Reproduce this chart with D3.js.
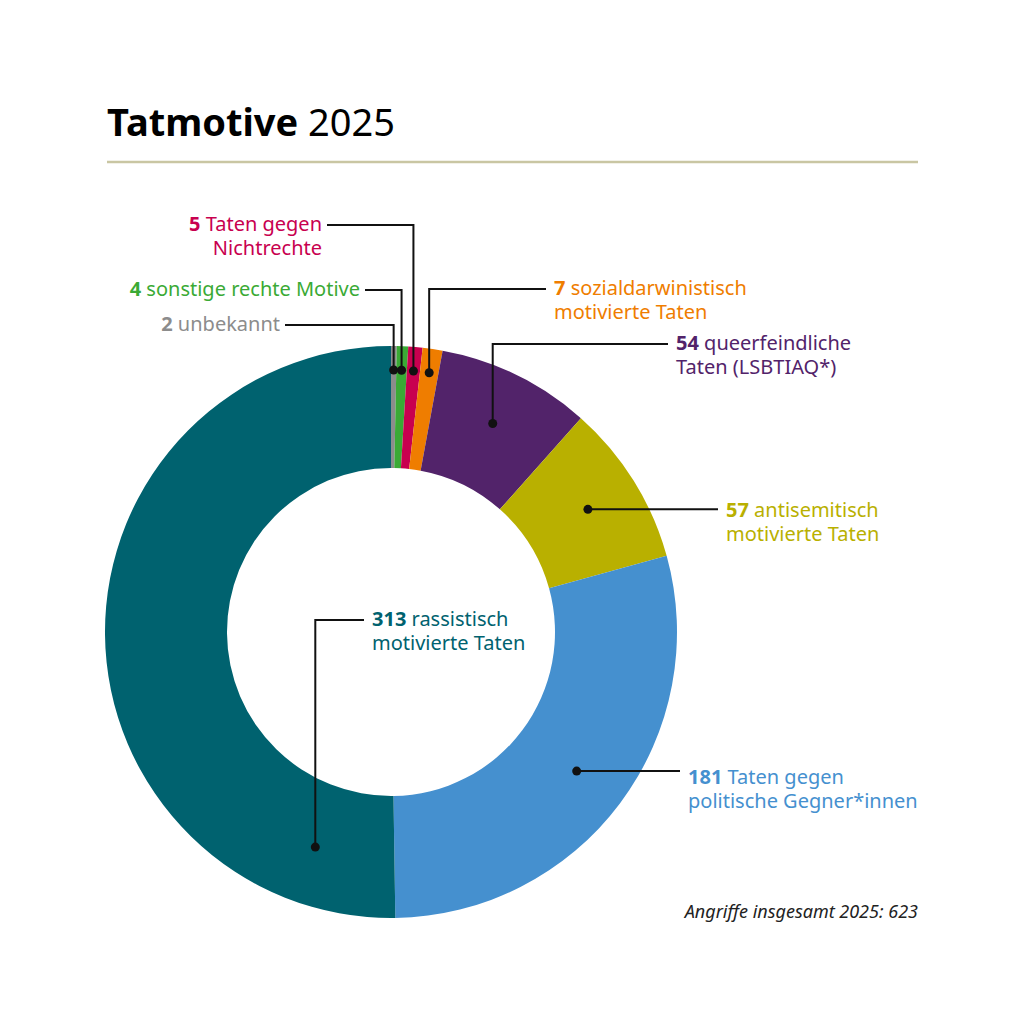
<!DOCTYPE html>
<html><head><meta charset="utf-8">
<script src="https://cdn.jsdelivr.net/npm/d3@7"></script>
<style>body{margin:0;background:#fff}text{font-family:"Noto Sans",sans-serif}</style>
</head><body><svg id="svg1" width="1024" height="1024"></svg>
<script>
"use strict"
// data, clockwise from the top
const categories = ["unbekannt","sonstige","nichtrechte","sozial","queer","antisemit","politisch","rassistisch"];
const values = [2, 4, 5, 7, 54, 57, 181, 313];
const colors = ["#8c8c8c","#3aaa35","#c8004f","#ef7d00","#52236a","#b9b000","#4590cf","#00626f"];
const labelLines = [
  ["2", " unbekannt"],
  ["4", " sonstige rechte Motive"],
  ["5", " Taten gegen", "Nichtrechte"],
  ["7", " sozialdarwinistisch", "motivierte Taten"],
  ["54", " queerfeindliche", "Taten (LSBTIAQ*)"],
  ["57", " antisemitisch", "motivierte Taten"],
  ["181", " Taten gegen", "politische Gegner*innen"],
  ["313", " rassistisch", "motivierte Taten"]
];

const svg = d3.select("#svg1");
const cx = 391, cy = 632, rOut = 286, rIn = 164;

// title
const t = svg.append("text").attr("x", 107).attr("y", 136).style("font-size", "38px");
t.append("tspan").style("font-weight", "bold").text("Tatmotive");
t.append("tspan").text(" 2025");
svg.append("line").attr("x1", 107).attr("x2", 918).attr("y1", 162).attr("y2", 162)
  .attr("stroke", "#c9c6a3").attr("stroke-width", 2.5);

const pie = d3.pie().sort(null).value(d => d)(values);
const arc = d3.arc().innerRadius(rIn).outerRadius(rOut);
const g = svg.append("g").attr("transform", `translate(${cx},${cy})`);
g.selectAll("path").data(pie).enter().append("path")
  .attr("d", arc).attr("fill", (d, i) => colors[i]);

// label placement (dot radius, optional dot angle, label anchor, leader knee)
const lay = [
  {r: 262, lx: 280, ly: 331, anchor: "end", knee: 325},
  {r: 262, lx: 360, ly: 296, anchor: "end", knee: 290},
  {r: 262, lx: 322, ly: 231, anchor: "end", knee: 225},
  {r: 262, lx: 554, ly: 295, anchor: "start", knee: 289},
  {r: 232, lx: 676, ly: 350, anchor: "start", knee: 344},
  {r: 232, lx: 726, ly: 517, anchor: "start", knee: null},
  {r: 232, lx: 688, ly: 784, anchor: "start", knee: null},
  {r: 228, a: 3.48, lx: 372, ly: 626, anchor: "start", knee: 620}
];

pie.forEach((p, i) => {
  const L = lay[i];
  const a = L.a !== undefined ? L.a : (p.startAngle + p.endAngle) / 2;
  const dx = cx + L.r * Math.sin(a), dy = cy - L.r * Math.cos(a);
  let pts;
  const endX = L.anchor === "end" ? L.lx + 5 : L.lx - 8;
  if (L.knee === null) pts = [[dx, dy], [endX, dy]];
  else pts = [[dx, dy], [dx, L.knee], [endX, L.knee]];
  svg.append("path").attr("d", d3.line()(pts)).attr("fill", "none")
    .attr("stroke", "#111").attr("stroke-width", 2);
  svg.append("circle").attr("cx", dx).attr("cy", dy).attr("r", 4.5).attr("fill", "#111");

  const lines = labelLines[i];
  const txt = svg.append("text").attr("text-anchor", L.anchor)
    .attr("fill", colors[i]).style("font-size", "20px");
  const first = txt.append("tspan").attr("x", L.lx).attr("y", L.ly);
  first.append("tspan").style("font-weight", "bold").text(lines[0]);
  first.append("tspan").text(lines[1]);
  if (lines[2]) txt.append("tspan").attr("x", L.lx).attr("y", L.ly + 24).text(lines[2]);
});

svg.append("text").attr("x", 918).attr("y", 918).attr("text-anchor", "end")
  .style("font-size", "18px").style("font-style", "italic").attr("fill", "#222")
  .text("Angriffe insgesamt 2025: 623");
</script></body></html>
